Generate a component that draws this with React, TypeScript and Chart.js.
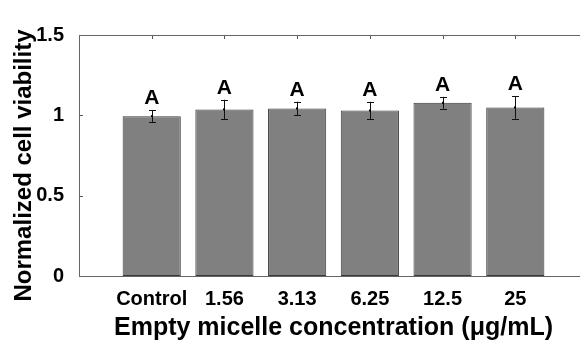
import React, { useEffect, useRef } from "react";
import { Chart, registerables } from "chart.js";

Chart.register(...registerables);

const categories = ["Control", "1.56", "3.13", "6.25", "12.5", "25"];
const viability = [0.995, 1.037, 1.043, 1.03, 1.078, 1.049];
const errors = [0.037, 0.06, 0.042, 0.054, 0.037, 0.07];
const letters = ["A", "A", "A", "A", "A", "A"];
const yTicks = [0, 0.5, 1, 1.5];

const FONT = "'Liberation Sans', Arial, Helvetica, sans-serif";

const matlabPlugin = {
  id: "matlabAxes",
  beforeDatasetsDraw(chart: any) {
    const { ctx, chartArea, scales } = chart;
    const x = scales.x;
    const y = scales.y;
    ctx.save();
    ctx.strokeStyle = "#555";
    ctx.lineWidth = 1;
    ctx.beginPath();
    for (const v of yTicks) {
      const py = Math.round(y.getPixelForValue(v)) + 0.5;
      ctx.moveTo(chartArea.left, py);
      ctx.lineTo(chartArea.left + 4, py);
      ctx.moveTo(chartArea.right, py);
      ctx.lineTo(chartArea.right - 4, py);
    }
    categories.forEach((_, i) => {
      const px = Math.round(x.getPixelForValue(i + 1)) + 0.5;
      ctx.moveTo(px, chartArea.top);
      ctx.lineTo(px, chartArea.top + 4);
      ctx.moveTo(px, chartArea.bottom);
      ctx.lineTo(px, chartArea.bottom - 4);
    });
    ctx.stroke();
    ctx.restore();
  },
  afterDatasetsDraw(chart: any) {
    const { ctx, chartArea, scales } = chart;
    const y = scales.y;
    const meta = chart.getDatasetMeta(0);
    ctx.save();
    ctx.strokeStyle = "#666";
    ctx.lineWidth = 1;
    ctx.strokeRect(
      Math.round(chartArea.left) + 0.5,
      Math.round(chartArea.top) + 0.5,
      Math.round(chartArea.right - chartArea.left),
      Math.round(chartArea.bottom - chartArea.top)
    );
    ctx.strokeStyle = "#111";
    ctx.fillStyle = "#000";
    categories.forEach((_, i) => {
      const bar = meta.data[i + 1];
      if (!bar) return;
      const px = Math.round(bar.x) + 0.5;
      const yTop = y.getPixelForValue(viability[i] + errors[i]);
      const yBot = y.getPixelForValue(viability[i] - errors[i]);
      const yMid = y.getPixelForValue(viability[i]);
      ctx.beginPath();
      ctx.moveTo(px, yTop);
      ctx.lineTo(px, yBot);
      ctx.moveTo(px - 3.5, Math.round(yTop) + 0.5);
      ctx.lineTo(px + 3.5, Math.round(yTop) + 0.5);
      ctx.moveTo(px - 3.5, Math.round(yBot) + 0.5);
      ctx.lineTo(px + 3.5, Math.round(yBot) + 0.5);
      ctx.stroke();
      ctx.fillRect(px - 1.5, yMid - 1, 2, 2);
      ctx.font = `bold 21px ${FONT}`;
      ctx.textAlign = "center";
      ctx.textBaseline = "alphabetic";
      ctx.fillText(letters[i], bar.x, yTop - 6);
    });
    ctx.restore();
  },
};

export default function App() {
  const ref = useRef<HTMLCanvasElement | null>(null);
  useEffect(() => {
    if (!ref.current) return;
    const chart = new Chart(ref.current, {
      type: "bar",
      data: {
        labels: ["", ...categories, ""],
        datasets: [
          {
            data: [null, ...viability, null],
            backgroundColor: "#808080",
            borderColor: "#3a3a3a",
            borderWidth: 1,
            borderSkipped: false,
            categoryPercentage: 1,
            barPercentage: 0.8,
          },
        ],
      },
      options: {
        animation: false,
        responsive: false,
        devicePixelRatio: 1,
        layout: { padding: { left: 0, right: 12, top: 35, bottom: 0 } },
        plugins: { legend: { display: false }, tooltip: { enabled: false } },
        scales: {
          x: {
            offset: false,
            grid: { display: false },
            border: { display: false },
            ticks: {
              autoSkip: false,
              maxRotation: 0,
              padding: 3,
              color: "#000",
              font: { family: FONT, size: 20, weight: "bold" },
            },
            title: {
              display: true,
              text: "Empty micelle concentration (μg/mL)",
              color: "#000",
              font: { family: FONT, size: 25, weight: "bold", lineHeight: 1.1 },
              padding: { top: 0, bottom: 1 },
            },
            afterFit: (s: any) => {
              s.height = 67;
            },
          },
          y: {
            min: 0,
            max: 1.5,
            grid: { display: false },
            border: { display: false },
            ticks: {
              stepSize: 0.5,
              padding: 7,
              color: "#000",
              font: { family: FONT, size: 20, weight: "bold" },
              callback: (v: any) => String(v),
            },
            title: {
              display: true,
              text: "Normalized cell viability   ",
              color: "#000",
              font: { family: FONT, size: 24, weight: "bold" },
              padding: { top: 10, bottom: 0 },
            },
            afterFit: (s: any) => {
              s.width = 79;
            },
          },
        },
      },
      plugins: [matlabPlugin],
    });
    return () => chart.destroy();
  }, []);
  return (
    <div
      style={{
        position: "fixed",
        left: 0,
        top: 0,
        width: 580,
        height: 343,
        overflow: "hidden",
        background: "#fff",
      }}
    >
      <canvas ref={ref} width={600} height={343} style={{ width: 600, height: 343, display: "block" }} />
    </div>
  );
}
